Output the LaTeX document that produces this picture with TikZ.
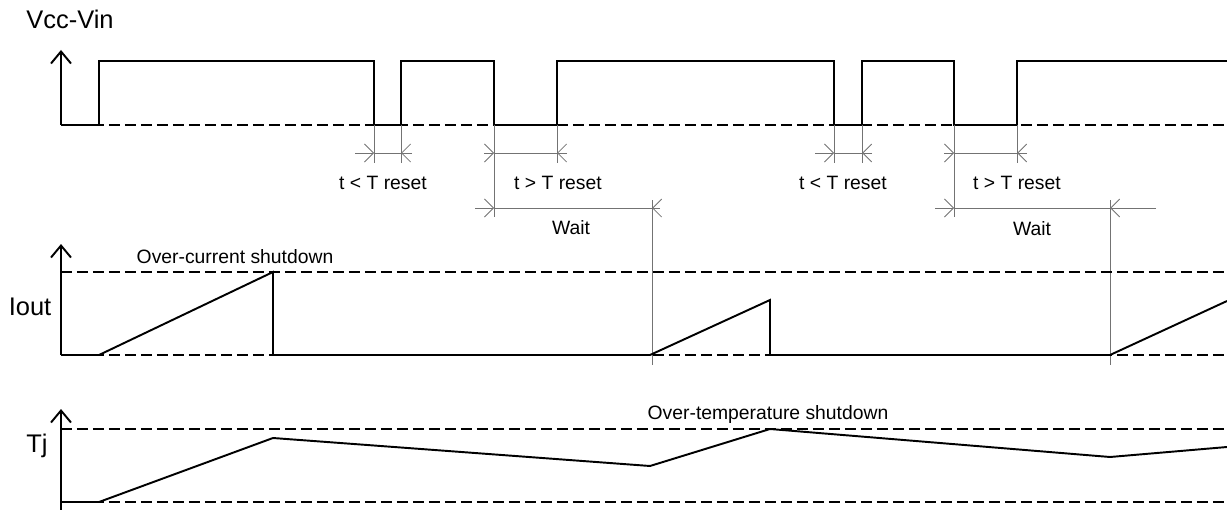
\documentclass[tikz,border=0pt]{standalone}
\usepackage{fontspec}
\setmainfont{Liberation Sans}
\usetikzlibrary{arrows.meta}

\begin{document}
\begin{tikzpicture}[x=0.02cm,y=-0.02cm,
  wave/.style={line width=1.1pt,line join=miter},
  level/.style={line width=1.1pt,dash pattern=on 2.2mm off 1mm},
  axis/.style={line width=1.1pt,-{Straight Barb[length=2.4mm,width=4mm]}},
  guide/.style={line width=0.5pt,black!55},
  dimtip/.style={guide,-{Straight Barb[length=1.8mm,width=3.6mm]}},
  big/.style={font=\fontsize{14.5}{17}\selectfont,inner sep=0pt,anchor=base},
  small/.style={font=\fontsize{11}{13}\selectfont,inner sep=0pt,anchor=base}]
\useasboundingbox (0,0) rectangle (1227,510);
% Vcc-Vin
\draw[level] (61,125) -- (1227,125);
\draw[axis] (61,125) -- (61,50);
\draw[wave] (61,125) -- (99,125) -- (99,61) -- (374,61) -- (374,125) -- (401,125)
  -- (401,61) -- (494,61) -- (494,125) -- (557,125) -- (557,61) -- (834,61)
  -- (834,125) -- (862,125) -- (862,61) -- (954,61) -- (954,125) -- (1017,125)
  -- (1017,61) -- (1227,61);
\node[big] (vin) at (70,29) {Vcc-Vin};
% reset intervals
\foreach \a/\b/\l/\r/\d in {374/401/355/412/163,494/557/484/567/217,
                             834/862/815/872/163,954/1017/944/1027/217} {
  \draw[guide] (\a,125) -- (\a,\d);
  \draw[guide] (\b,125) -- (\b,163);
  \draw[dimtip] (\l,153) -- (\a,153);
  \draw[dimtip] (\r,153) -- (\b,153);
  \draw[guide] (\a,153) -- (\b,153);
}
\node[small] (short1) at (383,189) {t < T reset};
\node[small] (long1) at (558,189) {t > T reset};
\node[small] (short2) at (843,189) {t < T reset};
\node[small] (long2) at (1017,189) {t > T reset};
% wait intervals
\foreach \a/\b/\l/\r in {494/652/475/660,954/1110/935/1156} {
  \draw[guide] (\b,200) -- (\b,365);
  \draw[dimtip] (\l,208) -- (\a,208);
  \draw[dimtip] (\r,208) -- (\b,208);
  \draw[guide] (\a,208) -- (\b,208);
}
\node[small] (wait1) at (571,234) {Wait};
\node[small] (wait2) at (1032,235) {Wait};
% Iout
\draw[level] (61,272) -- (1227,272);
\draw[level] (61,355) -- (1227,355);
\draw[axis] (61,355) -- (61,244);
\draw[wave] (61,355) -- (99,355) -- (273,272) -- (273,355) -- (650,355)
  -- (770,300) -- (770,355) -- (1110,355) -- (1227,301);
\node[big] (iout) at (30,315) {Iout};
\node[small] (ocs) at (235,263) {Over-current shutdown};
% Tj
\draw[level] (61,429) -- (1227,429);
\draw[level] (61,502) -- (1227,502);
\draw[axis] (61,510) -- (61,409);
\draw[wave] (61,502) -- (99,502) -- (273,438) -- (650,466) -- (770,429)
  -- (1110,457) -- (1227,447);
\node[big] (tj) at (37,452) {Tj};
\node[small] (ots) at (768,419) {Over-temperature shutdown};
\end{tikzpicture}
\end{document}
